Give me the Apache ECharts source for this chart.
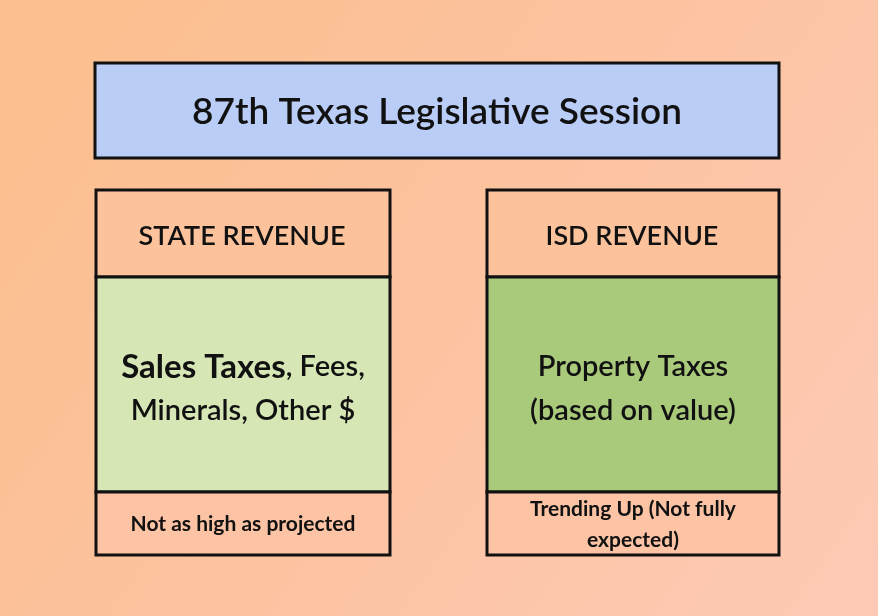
<!DOCTYPE html>
<html>
<head>
<meta charset="utf-8">
<script src="https://cdn.jsdelivr.net/npm/echarts@6/dist/echarts.min.js"></script>
<style>
  html, body { margin: 0; padding: 0; }
  #chart { width: 878px; height: 616px; }
</style>
</head>
<body>
<div id="chart"></div>
<script>
// diagram texts
const title = '87th Texas Legislative Session'
const headers = ['STATE REVENUE', 'ISD REVENUE']
const sources = [
  [[{ t: 'Sales Taxes', b: true }, { t: ', Fees,' }], [{ t: 'Minerals, Other $' }]],
  [[{ t: 'Property Taxes' }], [{ t: '(based on value)' }]]
]
const notes = [['Not as high as projected'], ['Trending Up (Not fully', 'expected)']]

const FONT = 'Lato, "Open Sans", sans-serif'
const cols = [
  { x: 96, w: 294, green: '#d6e6b4' },
  { x: 487, w: 292, green: '#a9c97b' }
]
const rowY = { head: 190, src: 277, note: 492, end: 555 }

const myChart = echarts.init(document.getElementById('chart'), null, { renderer: 'canvas' })

const elements = []
// title box
elements.push({
  type: 'rect', shape: { x: 95, y: 63, width: 684, height: 95 },
  style: { fill: '#b9cdf6', stroke: '#111', lineWidth: 3 }
})
elements.push({
  type: 'text', x: 437, y: 112,
  style: { text: title, font: '600 37px ' + FONT, fill: '#111', align: 'center', verticalAlign: 'middle' }
})

cols.forEach((c, i) => {
  const cx = c.x + c.w / 2
  elements.push({
    type: 'rect', shape: { x: c.x, y: rowY.head, width: c.w, height: rowY.src - rowY.head },
    style: { fill: '#fcc29c', stroke: '#111', lineWidth: 3 }
  })
  elements.push({
    type: 'text', x: cx - 1, y: 236,
    style: { text: headers[i], font: '600 27px ' + FONT, fill: '#111', align: 'center', verticalAlign: 'middle' }
  })
  elements.push({
    type: 'rect', shape: { x: c.x, y: rowY.src, width: c.w, height: rowY.note - rowY.src },
    style: { fill: c.green, stroke: '#111', lineWidth: 3 }
  })
  const lines = sources[i].map(line => line.map(p => '{' + (p.b ? 'b' : 'n') + '|' + p.t + '}').join('')).join('\n')
  elements.push({
    type: 'text', x: cx, y: 389,
    style: {
      text: lines, align: 'center', verticalAlign: 'middle', fill: '#111',
      rich: {
        n: { font: '600 29px ' + FONT, lineHeight: 44, fill: '#111' },
        b: { font: 'bold 33px ' + FONT, lineHeight: 44, fill: '#111' }
      }
    }
  })
  elements.push({
    type: 'rect', shape: { x: c.x, y: rowY.note, width: c.w, height: rowY.end - rowY.note },
    style: { fill: '#fcc3a4', stroke: '#111', lineWidth: 3 }
  })
  elements.push({
    type: 'text', x: cx, y: (rowY.note + rowY.end) / 2 + 1,
    style: {
      text: notes[i].join('\n'), font: 'bold 21px ' + FONT, lineHeight: 31,
      fill: '#111', align: 'center', verticalAlign: 'middle'
    }
  })
})

const option = {
  backgroundColor: new echarts.graphic.LinearGradient(0, 0, 1, 1, [
    { offset: 0, color: '#fbbe8c' },
    { offset: 0.5, color: '#fcc3a0' },
    { offset: 1, color: '#fdcab6' }
  ]),
  graphic: { elements: elements }
}
myChart.setOption(option)
window.addEventListener('resize', () => myChart.resize())
</script>
</body>
</html>
